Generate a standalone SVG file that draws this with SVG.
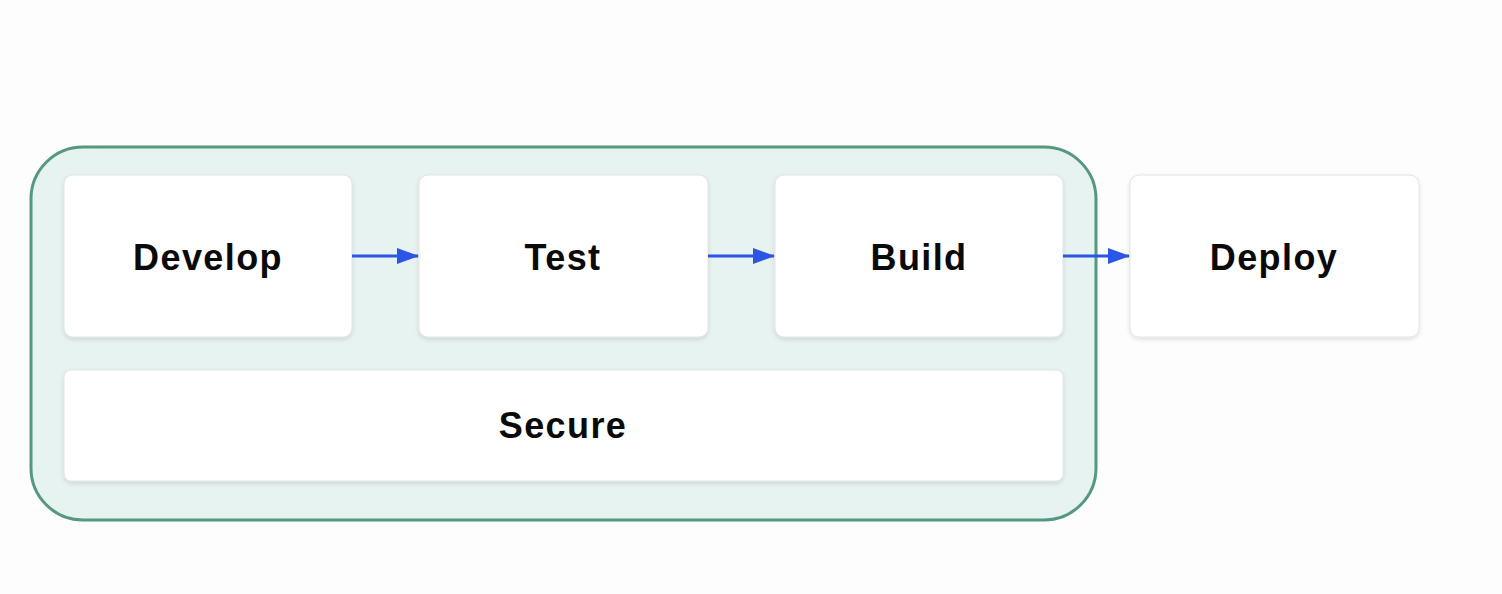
<svg xmlns="http://www.w3.org/2000/svg" width="1502" height="594" viewBox="0 0 1502 594">
  <defs>
    <filter id="sh" x="-10%" y="-10%" width="120%" height="130%">
      <feDropShadow dx="0" dy="2" stdDeviation="2" flood-color="#000" flood-opacity="0.12"/>
    </filter>
    <marker id="arr" markerWidth="22" markerHeight="16" refX="21" refY="8" orient="auto" markerUnits="userSpaceOnUse">
      <path d="M0,0 L22,8 L0,16 Z" fill="#2b55e6"/>
    </marker>
  </defs>
  <style>
    .box { fill: #ffffff; stroke: #e2e4e6; stroke-width: 1; filter: url(#sh); }
    .lbl { font-family: "Liberation Sans", Arial, sans-serif; font-weight: bold; font-size: 36px; letter-spacing: 1.4px; fill: #0a0a0a; text-anchor: middle; }
    .conn { stroke: #2b55e6; stroke-width: 3; fill: none; marker-end: url(#arr); }
  </style>
  <rect width="1502" height="594" fill="#fdfdfd"/>
  <g id="container">
    <rect x="31" y="147" width="1065" height="373" rx="52" ry="52" fill="#e6f3f1" stroke="#55987f" stroke-width="3"/>
  </g>
  <g id="develop">
    <rect class="box" x="64" y="175" width="288" height="162" rx="9"/>
    <text class="lbl" x="208" y="270">Develop</text>
  </g>
  <g id="test">
    <rect class="box" x="419" y="175" width="289" height="162" rx="9"/>
    <text class="lbl" x="563" y="270">Test</text>
  </g>
  <g id="build">
    <rect class="box" x="775" y="175" width="288" height="162" rx="9"/>
    <text class="lbl" x="919" y="270">Build</text>
  </g>
  <g id="deploy">
    <rect class="box" x="1130" y="175" width="289" height="162" rx="9"/>
    <text class="lbl" x="1274" y="270">Deploy</text>
  </g>
  <g id="secure">
    <rect class="box" x="64" y="370" width="999" height="111" rx="7"/>
    <text class="lbl" x="563" y="438">Secure</text>
  </g>
  <g id="connectors">
    <line class="conn" x1="352" y1="256" x2="418" y2="256"/>
    <line class="conn" x1="708" y1="256" x2="774" y2="256"/>
    <line class="conn" x1="1063" y1="256" x2="1129" y2="256"/>
  </g>
</svg>
